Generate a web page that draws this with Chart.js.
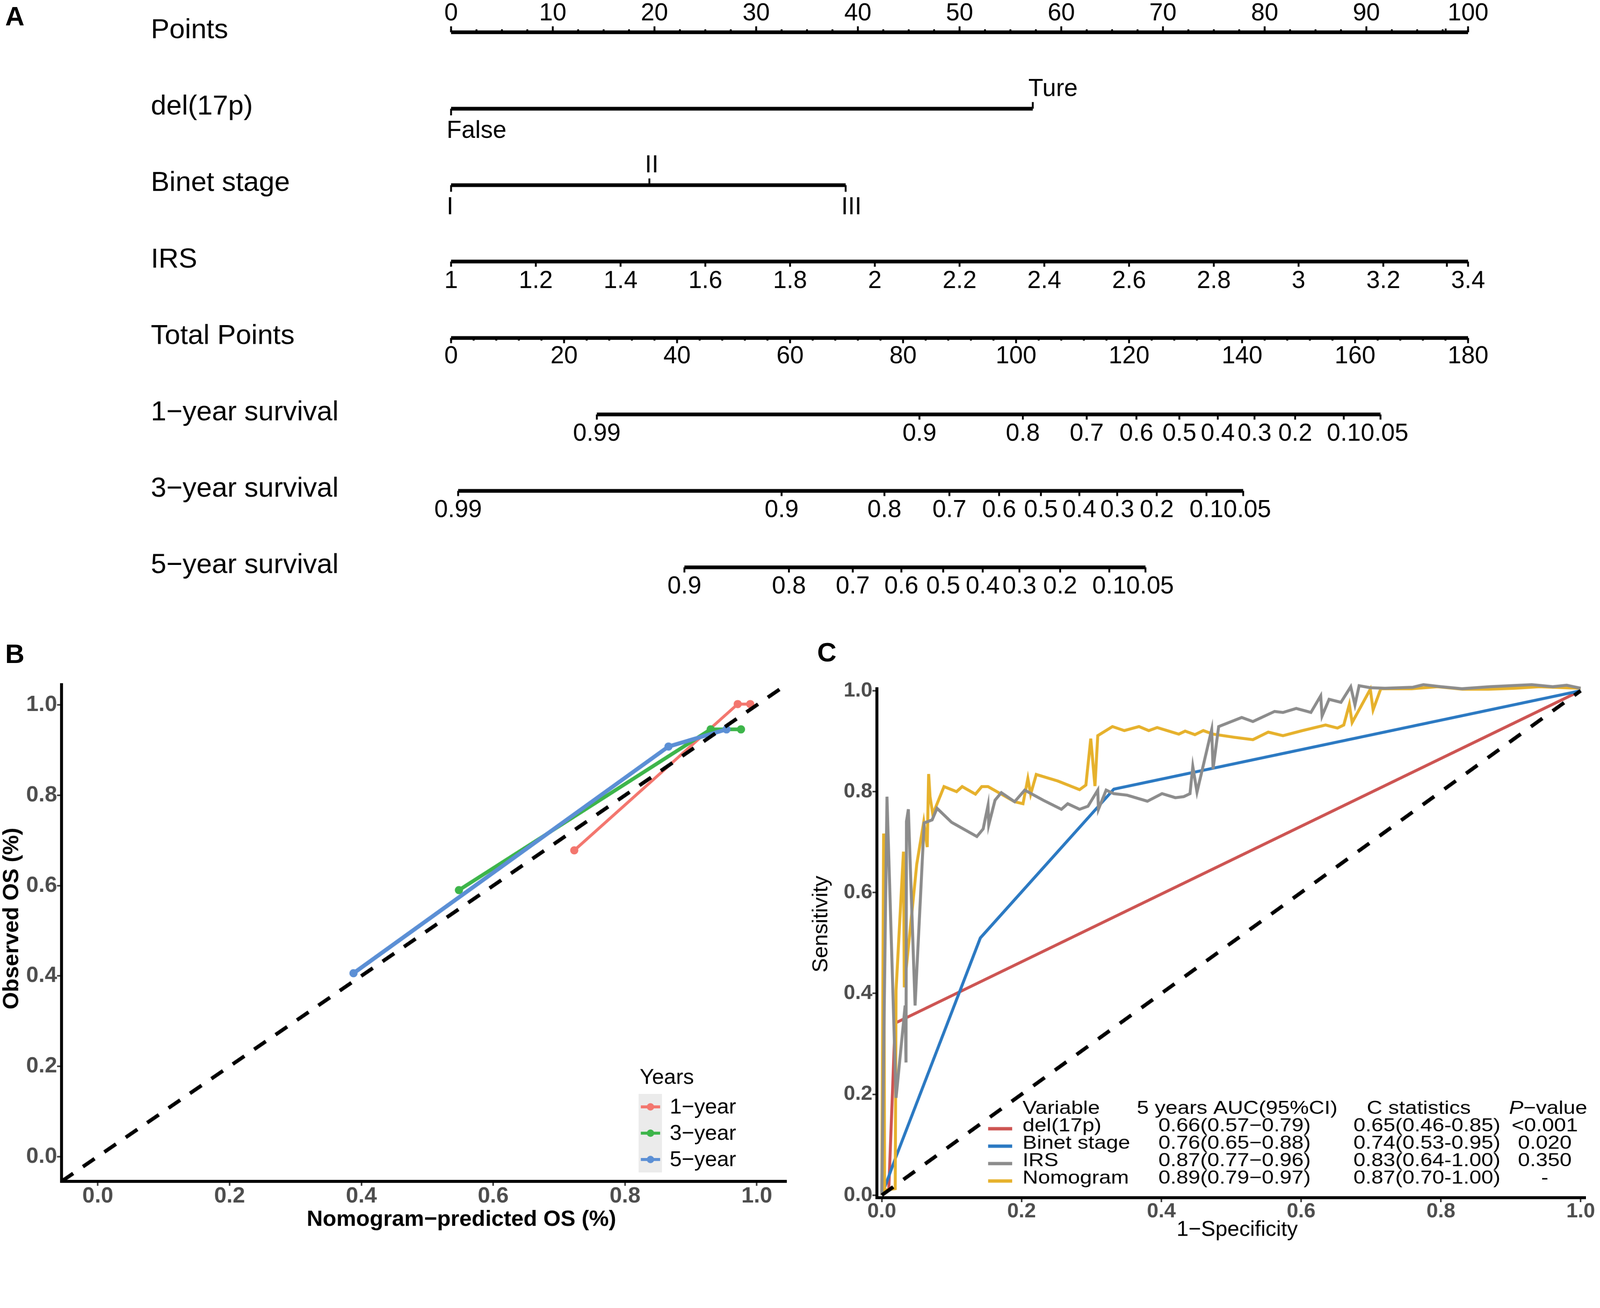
<!DOCTYPE html>
<html>
<head>
<meta charset="utf-8">
<title>Nomogram, calibration and ROC</title>
<script src="https://cdn.jsdelivr.net/npm/chart.js@4.4.1/dist/chart.umd.min.js"></script>
<style>
  html, body { margin: 0; padding: 0; background: #fff; overflow: hidden; }
  #page { width: 4317px; height: 3348px; position: relative; transform-origin: 0 0; font-family: "Liberation Sans", Arial, sans-serif; }
  canvas { position: absolute; }
  .tag { position: absolute; font-weight: bold; font-size: 72px; line-height: 72px; color: #000; }
</style>
</head>
<body>
<div id="page">
<canvas id="nomo" width="4317" height="1650" style="left:0;top:0"></canvas>
<canvas id="calib" width="2150" height="1648" style="left:0;top:1700px"></canvas>
<canvas id="roc" width="2167" height="1648" style="left:2150px;top:1700px"></canvas>
<div class="tag" style="left:14px;top:7px">A</div>
<div class="tag" style="left:14px;top:1728px">B</div>
<div class="tag" style="left:2205px;top:1723px">C</div>
</div>
<script>
// fit the 4317x3348 layout to whatever the viewport really is
const fit = Math.min(window.innerWidth / 4317, window.innerHeight / 3348);
document.getElementById('page').style.transform = 'scale(' + fit + ')';

const FONT = '"Liberation Sans", Arial, Helvetica, sans-serif';
Chart.defaults.font.family = FONT;
Chart.defaults.color = '#000';
Chart.defaults.animation = false;

// ---------- A: nomogram ----------
const rowNames = ['Points', 'del(17p)', 'Binet stage', 'IRS', 'Total Points',
  '1−year survival', '3−year survival', '5−year survival'];
const pointsTicks = [0, 10, 20, 30, 40, 50, 60, 70, 80, 90, 100];
const delLabels = ['False', 'Ture'];
const delPoints = [0, 57.2];
const binetLabels = ['I', 'II', 'III'];
const binetPoints = [0, 19.5, 38.8];
const irsTicks = [1, 1.2, 1.4, 1.6, 1.8, 2, 2.2, 2.4, 2.6, 2.8, 3, 3.2, 3.4];
const totalTicks = [0, 20, 40, 60, 80, 100, 120, 140, 160, 180];
const surv1Labels = ['0.99', '0.9', '0.8', '0.7', '0.6', '0.5', '0.4', '0.3', '0.2', '0.1', '0.05'];
const surv1Total = [25.8, 82.9, 101.2, 112.5, 121.3, 128.9, 135.7, 142.2, 149.4, 158.0, 164.5];
const surv3Labels = ['0.99', '0.9', '0.8', '0.7', '0.6', '0.5', '0.4', '0.3', '0.2', '0.1', '0.05'];
const surv3Total = [1.25, 58.5, 76.7, 88.2, 97.0, 104.4, 111.2, 117.9, 124.9, 133.7, 140.2];
const surv5Labels = ['0.9', '0.8', '0.7', '0.6', '0.5', '0.4', '0.3', '0.2', '0.1', '0.05'];
const surv5Total = [41.3, 59.8, 71.1, 79.7, 87.1, 94.1, 100.6, 107.8, 116.5, 122.9];

// ---------- B: calibration ----------
const calibTicks = [0, 0.2, 0.4, 0.6, 0.8, 1.0];
const yearLabels = ['1−year', '3−year', '5−year'];
const yearColors = ['#F3766E', '#3DB54A', '#5B8FD5'];
const pred1 = [0.723, 0.971, 0.990];
const obs1 = [0.678, 1.002, 1.002];
const pred3 = [0.548, 0.930, 0.976];
const obs3 = [0.590, 0.946, 0.946];
const pred5 = [0.388, 0.866, 0.954];
const obs5 = [0.406, 0.908, 0.946];

// ---------- C: ROC ----------
const rocTicks = [0, 0.2, 0.4, 0.6, 0.8, 1.0];
const rocNames = ['del(17p)', 'Binet stage', 'IRS', 'Nomogram'];
const rocColors = ['#CD5452', '#2B79C2', '#8C8C8C', '#E6B12C'];
const delFpr = [0, 0.01, 0.019, 1];
const delTpr = [0, 0.012, 0.341, 1];
const binetFpr = [0, 0.02, 0.141, 0.332, 1];
const binetTpr = [0, 0.075, 0.51, 0.805, 1];
const irsFpr = [0, 0.0074, 0.0204, 0.0334, 0.0346, 0.0353, 0.038, 0.0476, 0.0606, 0.072, 0.079, 0.1,
  0.136, 0.145, 0.152, 0.153, 0.162, 0.171, 0.19, 0.2045, 0.231, 0.257, 0.266, 0.283, 0.295, 0.309,
  0.31, 0.321, 0.332, 0.351, 0.38, 0.401, 0.42, 0.432, 0.441, 0.445, 0.451, 0.472, 0.474, 0.482,
  0.515, 0.531, 0.562, 0.574, 0.593, 0.614, 0.628, 0.63, 0.64, 0.657, 0.671, 0.677, 0.683, 0.699,
  0.72, 0.76, 0.775, 0.8, 0.83, 0.87, 0.9, 0.93, 0.96, 0.98, 1];
const irsTpr = [0, 0.79, 0.193, 0.376, 0.263, 0.741, 0.765, 0.376, 0.738, 0.744, 0.767, 0.739,
  0.711, 0.726, 0.773, 0.734, 0.783, 0.798, 0.78, 0.803, 0.783, 0.765, 0.776, 0.765, 0.771, 0.803,
  0.765, 0.803, 0.796, 0.793, 0.781, 0.796, 0.788, 0.79, 0.796, 0.85, 0.799, 0.923, 0.845, 0.929,
  0.947, 0.939, 0.959, 0.957, 0.965, 0.957, 0.99, 0.95, 0.983, 0.977, 1.008, 0.972, 1.01, 1.006,
  1.005, 1.007, 1.012, 1.008, 1.004, 1.008, 1.01, 1.012, 1.008, 1.011, 1.005];
const nomoFpr = [0, 0.0026, 0.004, 0.0192, 0.0204, 0.031, 0.0322, 0.05, 0.06, 0.065, 0.067, 0.069,
  0.073, 0.089, 0.107, 0.115, 0.134, 0.143, 0.152, 0.171, 0.19, 0.202, 0.209, 0.213, 0.221, 0.252,
  0.283, 0.292, 0.299, 0.305, 0.309, 0.33, 0.347, 0.368, 0.382, 0.394, 0.425, 0.434, 0.448, 0.46,
  0.474, 0.503, 0.531, 0.553, 0.574, 0.602, 0.635, 0.652, 0.661, 0.669, 0.673, 0.699, 0.703, 0.714,
  0.758, 0.795, 0.831, 0.868, 0.905, 0.941, 0.978, 1];
const nomoTpr = [0, 0.717, 0.01, 0.013, 0.406, 0.681, 0.412, 0.656, 0.74, 0.69, 0.835, 0.79,
  0.755, 0.81, 0.80, 0.81, 0.795, 0.81, 0.81, 0.795, 0.78, 0.776, 0.826, 0.795, 0.834, 0.821,
  0.804, 0.813, 0.905, 0.811, 0.911, 0.929, 0.921, 0.929, 0.921, 0.927, 0.914, 0.92, 0.913, 0.921,
  0.914, 0.908, 0.903, 0.918, 0.911, 0.921, 0.932, 0.926, 0.932, 0.973, 0.937, 1.003, 0.962, 1.004,
  1.004, 1.008, 1.003, 1.003, 1.005, 1.008, 1.006, 1.005];
const aucText = ['0.66(0.57−0.79)', '0.76(0.65−0.88)', '0.87(0.77−0.96)', '0.89(0.79−0.97)'];
const cStatText = ['0.65(0.46-0.85)', '0.74(0.53-0.95)', '0.83(0.64-1.00)', '0.87(0.70-1.00)'];
const pValueText = ['<0.001', '0.020', '0.350', '-'];

const toPoints = (xs, ys) => xs.map((x, i) => ({x: x, y: ys[i]}));

// ================= A =================
const rowLine = (row, from, to, axis) => ({
  data: [{x: from, y: row}, {x: to, y: row}],
  xAxisID: axis, showLine: true, borderColor: '#000', borderWidth: 10, pointRadius: 0
});

const nomoMarks = {
  id: 'nomoMarks',
  afterDatasetsDraw(chart) {
    const {ctx, scales} = chart;
    const rowY = i => scales.y.getPixelForValue(i);
    const tick = (scale, v, row, len) => {
      const px = scale.getPixelForValue(v);
      ctx.beginPath();
      ctx.moveTo(px, rowY(row));
      ctx.lineTo(px, rowY(row) + len);
      ctx.stroke();
    };
    const rowLabels = (scale, values, texts, row, dy) => {
      let prevRight = -Infinity;
      ctx.textAlign = 'center';
      values.forEach((v, k) => {
        const w = ctx.measureText(texts[k]).width;
        let cx = scale.getPixelForValue(v);
        if (cx - w / 2 < prevRight) cx = prevRight + w / 2;
        ctx.fillText(texts[k], cx, rowY(row) + dy);
        prevRight = cx + w / 2;
      });
    };
    const catRow = (values, texts, row) => {
      ctx.textAlign = 'left';
      values.forEach((v, k) => {
        const up = k % 2 === 1;
        tick(scales.x, v, row, up ? -18 : 18);
        ctx.fillText(texts[k], scales.x.getPixelForValue(v) - 12, rowY(row) + (up ? -34 : 79));
      });
    };

    ctx.save();
    ctx.strokeStyle = '#000';
    ctx.fillStyle = '#000';
    ctx.lineWidth = 5;
    ctx.textBaseline = 'alphabetic';

    ctx.font = '75px ' + FONT;
    ctx.textAlign = 'left';
    rowNames.forEach((n, i) => ctx.fillText(n, 407, rowY(i) + 16));

    ctx.font = '66px ' + FONT;
    // Points
    for (let v = 0; v <= 100; v += 2.5) tick(scales.x, v, 0, -8);
    tick(scales.x, 97.8, 0, -10);
    pointsTicks.forEach(v => tick(scales.x, v, 0, -16));
    rowLabels(scales.x, pointsTicks, pointsTicks.map(String), 0, -32);
    // categorical rows
    catRow(delPoints, delLabels, 1);
    catRow(binetPoints, binetLabels, 2);
    // IRS
    irsTicks.forEach(v => tick(scales.xIrs, v, 3, 14));
    tick(scales.xIrs, 3.35, 3, 14);
    rowLabels(scales.xIrs, irsTicks, irsTicks.map(String), 3, 71);
    // Total points
    for (let v = 0; v <= 180; v += 4) tick(scales.xTotal, v, 4, 7);
    totalTicks.forEach(v => tick(scales.xTotal, v, 4, 14));
    rowLabels(scales.xTotal, totalTicks, totalTicks.map(String), 4, 68);
    // survival rows
    [[surv1Total, surv1Labels], [surv3Total, surv3Labels], [surv5Total, surv5Labels]].forEach(([vals, labs], j) => {
      vals.forEach(v => tick(scales.xTotal, v, 5 + j, 14));
      rowLabels(scales.xTotal, vals, labs, 5 + j, 71);
    });
    ctx.restore();
  }
};

new Chart(document.getElementById('nomo'), {
  type: 'scatter',
  data: {
    datasets: [
      rowLine(0, pointsTicks[0], pointsTicks.at(-1), 'x'),
      rowLine(1, delPoints[0], delPoints.at(-1), 'x'),
      rowLine(2, binetPoints[0], binetPoints.at(-1), 'x'),
      rowLine(3, irsTicks[0], irsTicks.at(-1), 'xIrs'),
      rowLine(4, totalTicks[0], totalTicks.at(-1), 'xTotal'),
      rowLine(5, surv1Total[0], surv1Total.at(-1), 'xTotal'),
      rowLine(6, surv3Total[0], surv3Total.at(-1), 'xTotal'),
      rowLine(7, surv5Total[0], surv5Total.at(-1), 'xTotal')
    ]
  },
  options: {
    responsive: false,
    devicePixelRatio: 1,
    events: [],
    layout: {padding: {left: 1217, right: 356, top: 0, bottom: 0}},
    plugins: {legend: {display: false}, tooltip: {enabled: false}},
    scales: {
      x: {type: 'linear', axis: 'x', position: 'bottom', min: 0, max: 100, display: false},
      xIrs: {type: 'linear', axis: 'x', position: 'bottom', min: 1, max: 3.4, display: false},
      xTotal: {type: 'linear', axis: 'x', position: 'bottom', min: 0, max: 180, display: false},
      y: {type: 'linear', min: -0.422, max: 7.58, reverse: true, display: false}
    }
  },
  plugins: [nomoMarks]
});

// ================= shared axis helpers =================
const axisStyle = (ticks, fontSize, pad) => ({
  type: 'linear',
  afterBuildTicks: s => { s.ticks = ticks.map(v => ({value: v})); },
  ticks: {
    callback: v => v.toFixed(1), color: '#4D4D4D', padding: pad,
    font: {size: fontSize, weight: 'bold'}, maxRotation: 0, autoSkip: false
  },
  grid: {display: true, drawOnChartArea: false, drawTicks: true, tickLength: 12, tickWidth: 4, tickColor: '#333'},
  border: {display: true, color: '#000', width: 8}
});

const axisTitles = {
  id: 'axisTitles',
  afterDraw(chart, args, opts) {
    const {ctx} = chart;
    ctx.save();
    ctx.fillStyle = '#000';
    ctx.font = opts.font;
    ctx.textAlign = 'center';
    ctx.textBaseline = 'alphabetic';
    ctx.fillText(opts.xText, opts.xPos[0], opts.xPos[1]);
    ctx.translate(opts.yPos[0], opts.yPos[1]);
    ctx.rotate(-Math.PI / 2);
    ctx.fillText(opts.yText, 0, 0);
    ctx.restore();
  }
};

// ================= B =================
const calibLegend = {
  id: 'calibLegend',
  afterDraw(chart) {
    const {ctx} = chart;
    const sets = chart.data.datasets.filter(d => d.yearKey !== undefined);
    ctx.save();
    ctx.font = '58px ' + FONT;
    ctx.fillStyle = '#000';
    ctx.textAlign = 'left';
    ctx.textBaseline = 'alphabetic';
    ctx.fillText('Years', 1726, 1224);
    ctx.fillStyle = '#EBEBEB';
    ctx.fillRect(1723, 1251, 63, 212);
    sets.forEach((d, i) => {
      const cy = 1286 + 71 * i;
      ctx.strokeStyle = d.borderColor;
      ctx.lineWidth = 8;
      ctx.beginPath();
      ctx.moveTo(1729, cy);
      ctx.lineTo(1781, cy);
      ctx.stroke();
      ctx.fillStyle = d.borderColor;
      ctx.beginPath();
      ctx.arc(1755, cy, 10, 0, Math.PI * 2);
      ctx.fill();
      ctx.fillStyle = '#000';
      ctx.textBaseline = 'middle';
      ctx.fillText(d.label, 1807, cy + 2);
    });
    ctx.restore();
  }
};

const yearSet = (k, xs, ys, width, order) => ({
  label: yearLabels[k], yearKey: k, data: toPoints(xs, ys), showLine: true,
  borderColor: yearColors[k], backgroundColor: yearColors[k], borderWidth: width,
  pointRadius: 11, pointBorderWidth: 0, order: order
});

new Chart(document.getElementById('calib'), {
  type: 'scatter',
  data: {
    datasets: [
      {label: 'ideal', data: [{x: -0.055, y: -0.055}, {x: 1.045, y: 1.045}], showLine: true,
        borderColor: '#000', borderWidth: 10, borderDash: [38, 32], pointRadius: 0, order: 0},
      yearSet(0, pred1, obs1, 8, 3),
      yearSet(1, pred3, obs3, 10, 2),
      yearSet(2, pred5, obs5, 11, 1)
    ]
  },
  options: {
    responsive: false,
    devicePixelRatio: 1,
    events: [],
    layout: {padding: {left: 0, right: 28, top: 147, bottom: 0}},
    plugins: {
      legend: {display: false}, tooltip: {enabled: false},
      axisTitles: {font: 'bold 60px ' + FONT, xText: 'Nomogram−predicted OS (%)', xPos: [1245, 1607],
        yText: 'Observed OS (%)', yPos: [49, 778]}
    },
    scales: {
      x: Object.assign(axisStyle(calibTicks, 60, -8), {min: -0.055, max: 1.045, afterFit: s => { s.height = 161; }}),
      y: Object.assign(axisStyle(calibTicks, 60, 0), {min: -0.055, max: 1.045, afterFit: s => { s.width = 166; }})
    }
  },
  plugins: [axisTitles, calibLegend]
});

// ================= C =================
const rocTable = {
  id: 'rocTable',
  afterDraw(chart) {
    const {ctx} = chart;
    const sx = 1.16;
    const baselines = [1305, 1352, 1399, 1446, 1493];
    const put = (text, x, y, align) => {
      ctx.save();
      ctx.translate(x, y);
      ctx.scale(sx, 1);
      ctx.textAlign = align;
      ctx.fillText(text, 0, 0);
      ctx.restore();
    };
    ctx.save();
    ctx.fillStyle = '#000';
    ctx.textBaseline = 'alphabetic';
    ctx.font = '50px ' + FONT;
    put('Variable', 609, baselines[0], 'left');
    put('5 years AUC(95%CI)', 1188, baselines[0], 'center');
    put('C statistics', 1678, baselines[0], 'center');
    // italic P followed by "−value"
    ctx.font = 'italic 50px ' + FONT;
    const wP = ctx.measureText('P').width * sx;
    ctx.font = '50px ' + FONT;
    const wRest = ctx.measureText('−value').width * sx;
    const start = 2027 - (wP + wRest) / 2;
    ctx.font = 'italic 50px ' + FONT;
    put('P', start, baselines[0], 'left');
    ctx.font = '50px ' + FONT;
    put('−value', start + wP, baselines[0], 'left');

    rocNames.forEach((name, i) => {
      const y = baselines[i + 1];
      ctx.strokeStyle = rocColors[i];
      ctx.lineWidth = 9;
      ctx.beginPath();
      ctx.moveTo(516, y - 7);
      ctx.lineTo(581, y - 7);
      ctx.stroke();
      put(name, 609, y, 'left');
      put(aucText[i], 1181, y, 'center');
      put(cStatText[i], 1700, y, 'center');
      put(pValueText[i], 2018, y, 'center');
    });
    ctx.restore();
  }
};

const rocSet = (k, xs, ys, order) => ({
  label: rocNames[k], data: toPoints(xs, ys), showLine: true, borderColor: rocColors[k],
  borderWidth: 8, pointRadius: 0, order: order, clip: false
});

new Chart(document.getElementById('roc'), {
  type: 'scatter',
  data: {
    datasets: [
      {label: 'chance', data: [{x: 0, y: 0}, {x: 1, y: 1}], showLine: true, borderColor: '#000',
        borderWidth: 10, borderDash: [38, 34], pointRadius: 0, order: 0, clip: false},
      rocSet(0, delFpr, delTpr, 4),
      rocSet(1, binetFpr, binetTpr, 3),
      rocSet(2, irsFpr, irsTpr, 1),
      rocSet(3, nomoFpr, nomoTpr, 2)
    ]
  },
  options: {
    responsive: false,
    devicePixelRatio: 1,
    events: [],
    layout: {padding: {left: 0, right: 39, top: 158, bottom: 0}},
    plugins: {
      legend: {display: false}, tooltip: {enabled: false},
      axisTitles: {font: '58px ' + FONT, xText: '1−Specificity', xPos: [1188, 1634],
        yText: 'Sensitivity', yPos: [82, 793]}
    },
    scales: {
      x: Object.assign(axisStyle(rocTicks, 56, -8), {min: -0.007, max: 1.007, afterFit: s => { s.height = 117; }}),
      y: Object.assign(axisStyle(rocTicks, 56, 0), {min: -0.005, max: 1.004, afterFit: s => { s.width = 216; }})
    }
  },
  plugins: [axisTitles, rocTable]
});
</script>
</body>
</html>
